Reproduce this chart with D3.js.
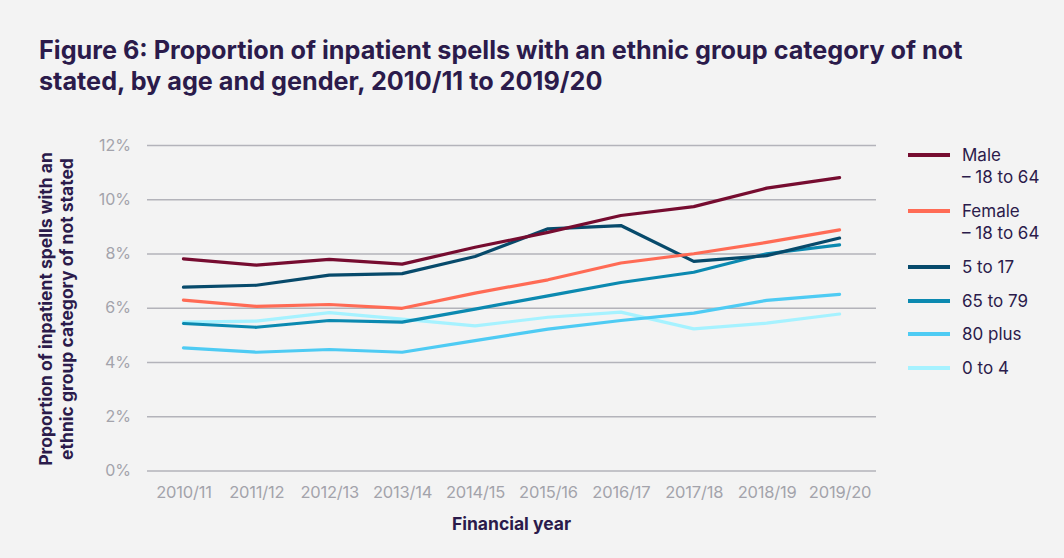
<!DOCTYPE html>
<html>
<head>
<meta charset="utf-8">
<script src="https://cdn.jsdelivr.net/npm/d3@7"></script>
<style>
  html, body { margin: 0; padding: 0; background: #f3f3f3; }
  svg { display: block; }
  text { font-family: Inter, "Open Sans", sans-serif; }
</style>
</head>
<body>
<svg id="chart" width="1064" height="558"></svg>
<script>
// Financial years on the x axis
const years = ["2010/11","2011/12","2012/13","2013/14","2014/15","2015/16","2016/17","2017/18","2018/19","2019/20"];

// Percentage of inpatient spells with ethnic group "not stated", by group
const male18to64   = [7.80, 7.57, 7.78, 7.61, 8.23, 8.78, 9.40, 9.73, 10.41, 10.80];
const female18to64 = [6.28, 6.05, 6.12, 5.98, 6.54, 7.03, 7.65, 7.99, 8.41, 8.87];
const age5to17     = [6.76, 6.83, 7.20, 7.26, 7.89, 8.91, 9.03, 7.71, 7.92, 8.57];
const age65to79    = [5.42, 5.28, 5.53, 5.47, 5.95, 6.44, 6.93, 7.31, 7.99, 8.32];
const age80plus    = [4.52, 4.36, 4.46, 4.36, 4.79, 5.21, 5.53, 5.80, 6.27, 6.49];
const age0to4      = [5.47, 5.51, 5.82, 5.58, 5.33, 5.65, 5.84, 5.22, 5.43, 5.77];

const yTicks = [0, 2, 4, 6, 8, 10, 12];

const series = [
  { name: ["Male", "\u2013 18 to 64"],   values: male18to64,   color: "#760c30" },
  { name: ["Female", "\u2013 18 to 64"], values: female18to64, color: "#ff6b55" },
  { name: ["5 to 17"],                   values: age5to17,     color: "#074a6b" },
  { name: ["65 to 79"],                  values: age65to79,    color: "#0b89b0" },
  { name: ["80 plus"],                   values: age80plus,    color: "#4ecbf3" },
  { name: ["0 to 4"],                    values: age0to4,      color: "#a6f2ff" }
];

const ink = "#2b1b4b";
const svg = d3.select("#chart");

// Title
const titleLines = [
  "Figure 6: Proportion of inpatient spells with an ethnic group category of not",
  "stated, by age and gender, 2010/11 to 2019/20"
];
const title = svg.append("g");
titleLines.forEach((t, i) => {
  title.append("text")
    .attr("x", 39).attr("y", 59 + i * 31)
    .attr("font-size", 24).attr("font-weight", 700)
    .attr("fill", ink).text(t);
});
// scale the title so the first line spans the intended width
const firstW = title.select("text").node().getComputedTextLength();
const fs = 24 * 924 / firstW;
title.selectAll("text").attr("font-size", fs);

// Plot area
const plotLeft = 147, plotRight = 876, plotTop = 145, plotBottom = 470.5;

const x = d3.scalePoint().domain(years).range([plotLeft, plotRight]).padding(0.5);
const y = d3.scaleLinear().domain([0, 12]).range([plotBottom, plotTop]);

// Gridlines + y labels
const yAxis = d3.axisLeft(y).tickValues(yTicks)
  .tickSize(-(plotRight - plotLeft)).tickPadding(16)
  .tickFormat(d => d + "%");
const gy = svg.append("g").attr("transform", `translate(${plotLeft},0)`).call(yAxis);
gy.select(".domain").remove();
gy.selectAll(".tick line").attr("stroke", "#b3b3ba").attr("stroke-width", 1.5);
gy.selectAll(".tick text").attr("fill", "#a3a3ab").attr("font-size", 16)
  .attr("font-family", "Inter, sans-serif");

// x labels
const xAxis = d3.axisBottom(x).tickSize(0).tickPadding(16);
const gx = svg.append("g").attr("transform", `translate(0,${plotBottom})`).call(xAxis);
gx.select(".domain").remove();
gx.selectAll(".tick text").attr("fill", "#a3a3ab").attr("font-size", 16.5)
  .attr("font-family", "Inter, sans-serif").attr("letter-spacing", -0.2);

// Axis titles
svg.append("text")
  .attr("x", (plotLeft + plotRight) / 2).attr("y", 530)
  .attr("text-anchor", "middle").attr("font-size", 17.5).attr("font-weight", 700)
  .attr("fill", ink).text("Financial year");

const yTitle = svg.append("text")
  .attr("transform", "translate(52,309) rotate(-90)")
  .attr("text-anchor", "middle").attr("font-size", 17.5).attr("font-weight", 700)
  .attr("fill", ink);
yTitle.append("tspan").attr("x", 0).attr("dy", 0).text("Proportion of inpatient spells with an");
yTitle.append("tspan").attr("x", 0).attr("dy", 21).text("ethnic group category of not stated");

// Lines, drawn so the first series sits on top
const line = d3.line().x((d, i) => x(years[i])).y(d => y(d));
svg.append("g").selectAll("path")
  .data(series.slice().reverse())
  .join("path")
  .attr("d", d => line(d.values))
  .attr("fill", "none")
  .attr("stroke", d => d.color)
  .attr("stroke-width", 3.2)
  .attr("stroke-linejoin", "round")
  .attr("stroke-linecap", "round");

// Legend
const legendY = [155, 211, 267, 301, 334, 368];
const leg = svg.append("g").selectAll("g")
  .data(series).join("g")
  .attr("transform", (d, i) => `translate(908,${legendY[i]})`);
leg.append("line")
  .attr("x1", 0).attr("x2", 42)
  .attr("stroke", d => d.color).attr("stroke-width", 4);
leg.append("text")
  .attr("x", 54).attr("y", 0)
  .attr("font-size", 17).attr("fill", ink)
  .selectAll("tspan").data(d => d.name).join("tspan")
  .attr("x", 54).attr("dy", (d, i) => i === 0 ? "0.36em" : 22)
  .text(d => d);
</script>
</body>
</html>
